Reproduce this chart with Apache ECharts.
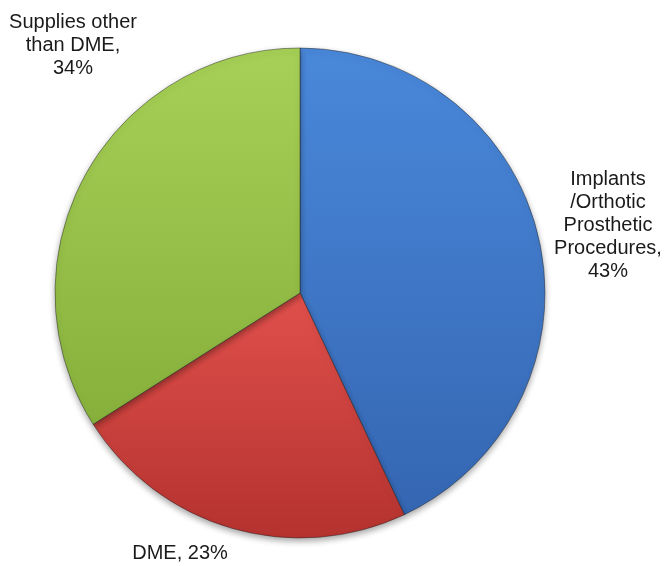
<!DOCTYPE html>
<html>
	<head>
		<meta charset="utf-8">
		<title></title>
		<script src="https://cdn.jsdelivr.net/npm/echarts@6/dist/echarts.min.js" type="text/javascript" charset="utf-8"></script>
		<style>
			html, body { margin: 0; padding: 0; background: #fff; }
		</style>
	</head>
	<body>
		<div id="mainChart" style="width: 665px;height:566px;"></div>
		<script type="text/javascript">
			// data
			var categories = ['Implants\n/Orthotic\nProsthetic\nProcedures', 'DME', 'Supplies other\nthan DME'];
			var values = [43, 23, 34];

			// slice colours (top, bottom of gradient)
			var colors = [
				['#4A88DA', '#3466B2'],
				['#E0504B', '#B4322F'],
				['#A6D056', '#86B03B']
			];
			// label centres
			var labelPos = [[608, 225], [180, 553], [73, 45]];

			var dom = document.getElementById("mainChart");
			var myChart = echarts.init(dom);

			var seriesData = [];
			for (var i = 0; i < categories.length; i++) {
				seriesData.push({
					name: categories[i],
					value: values[i],
					itemStyle: {
						color: new echarts.graphic.LinearGradient(0, 0, 0, 1, [
							{ offset: 0, color: colors[i][0] },
							{ offset: 1, color: colors[i][1] }
						])
					}
				});
			}

			var option = {
				backgroundColor: '#fff',
				animation: false,
				series: [{
					type: 'pie',
					center: [300, 293],
					radius: 245,
					startAngle: 90,
					clockwise: true,
					data: seriesData,
					itemStyle: {
						borderColor: 'rgba(30,30,30,0.45)',
						borderWidth: 1,
						shadowBlur: 6,
						shadowOffsetY: 3,
						shadowColor: 'rgba(0,0,0,0.35)'
					},
					label: {
						show: true,
						position: 'outside',
						overflow: 'none',
						color: '#1a1a1a',
						fontSize: 20,
						lineHeight: 23,
						fontFamily: 'Liberation Sans, Arial, sans-serif',
						align: 'center',
						formatter: function(p) {
							if (p.name === 'DME') return p.name + ', ' + p.value + '%';
							return p.name + ',\n' + p.value + '%';
						}
					},
					labelLine: { show: false },
					labelLayout: function(params) {
						var pos = labelPos[params.dataIndex];
						return {
							x: pos[0],
							y: pos[1],
							align: 'center',
							verticalAlign: 'middle'
						};
					}
				}]
			};
			myChart.setOption(option, true);
		</script>
	</body>
</html>
